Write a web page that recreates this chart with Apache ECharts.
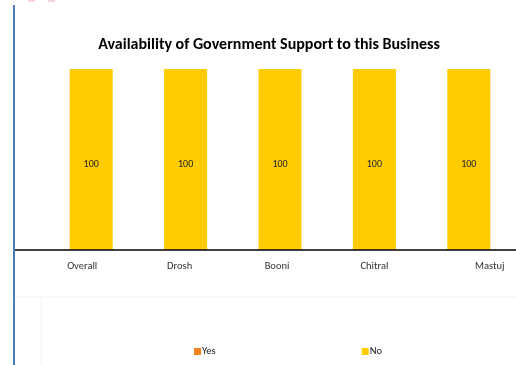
<!DOCTYPE html>
<html>
<head>
<meta charset="utf-8">
<script src="https://cdn.jsdelivr.net/npm/echarts@6/dist/echarts.min.js"></script>
<style>html,body{margin:0;padding:0;background:#fff;}#c{width:516px;height:365px;}</style>
</head>
<body>
<div id="c"></div>
<script>
var categories = ['Overall', 'Drosh', 'Booni', 'Chitral', 'Mastuj'];
var yesValues = [0, 0, 0, 0, 0];
var noValues = [100, 100, 100, 100, 100];
var seriesNames = ['Yes', 'No'];
var titleText = 'Availability of Government Support to this Business';

var chart = echarts.init(document.getElementById('c'), null, {renderer: 'canvas'});
var font = 'Carlito, "Open Sans", "Liberation Sans", sans-serif';
var labelPads = [[0,18,0,0],[0,12,0,0],[0,6,0,0],[0,0,0,0],[0,0,0,42]];
var rich = {};
labelPads.forEach(function (p, i) {
  rich['s' + i] = {fontFamily: font, fontSize: 10.5, color: '#333', padding: p};
});
chart.setOption({
  animation: false,
  backgroundColor: '#ffffff',
  title: {
    text: titleText,
    left: 264, top: 32, textAlign: 'center',
    textStyle: {fontFamily: font, fontSize: 16, fontWeight: 'bold', color: '#000'}
  },
  legend: {
    data: seriesNames,
    left: 189, top: 341,
    itemWidth: 7, itemHeight: 7, itemGap: 146,
    icon: 'rect',
    textStyle: {fontFamily: font, fontSize: 10.5, color: '#222', padding: [0,0,0,-4]}
  },
  grid: {left: 44, right: -2, top: 69, bottom: 115, containLabel: false},
  xAxis: {
    type: 'category', data: categories,
    axisLine: {show: false}, axisTick: {show: false},
    axisLabel: {
      margin: 11,
      formatter: function (v, i) { return '{s' + i + '|' + v + '}'; },
      rich: rich
    }
  },
  yAxis: {type: 'value', min: 0, max: 100, show: false, splitLine: {show: false}},
  series: [
    {name: seriesNames[0], type: 'bar', stack: 's', data: yesValues, barWidth: 43,
     itemStyle: {color: '#F58220'}},
    {name: seriesNames[1], type: 'bar', stack: 's', data: noValues, barWidth: 43,
     itemStyle: {color: '#FFCC00'},
     label: {show: true, position: 'inside', offset: [0, 5], fontFamily: font, fontSize: 10, color: '#222'}}
  ],
  graphic: [
    {type: 'line', shape: {x1: 15, y1: 250, x2: 516, y2: 250}, style: {stroke: '#000', lineWidth: 1.3}, z: 10},
    {type: 'rect', shape: {x: 13, y: 5, width: 2, height: 360}, style: {fill: '#4a7ebb'}},
    {type: 'rect', shape: {x: 28, y: 0, width: 7, height: 2}, style: {fill: '#fbd3df'}},
    {type: 'rect', shape: {x: 48, y: 0, width: 7, height: 2}, style: {fill: '#fbd3df'}},
    {type: 'line', shape: {x1: 15, y1: 297, x2: 516, y2: 297}, style: {stroke: '#f8f8f8', lineWidth: 2}},
    {type: 'line', shape: {x1: 41, y1: 297, x2: 41, y2: 365}, style: {stroke: '#f8f8f8', lineWidth: 2}}
  ]
});
</script>
</body>
</html>
